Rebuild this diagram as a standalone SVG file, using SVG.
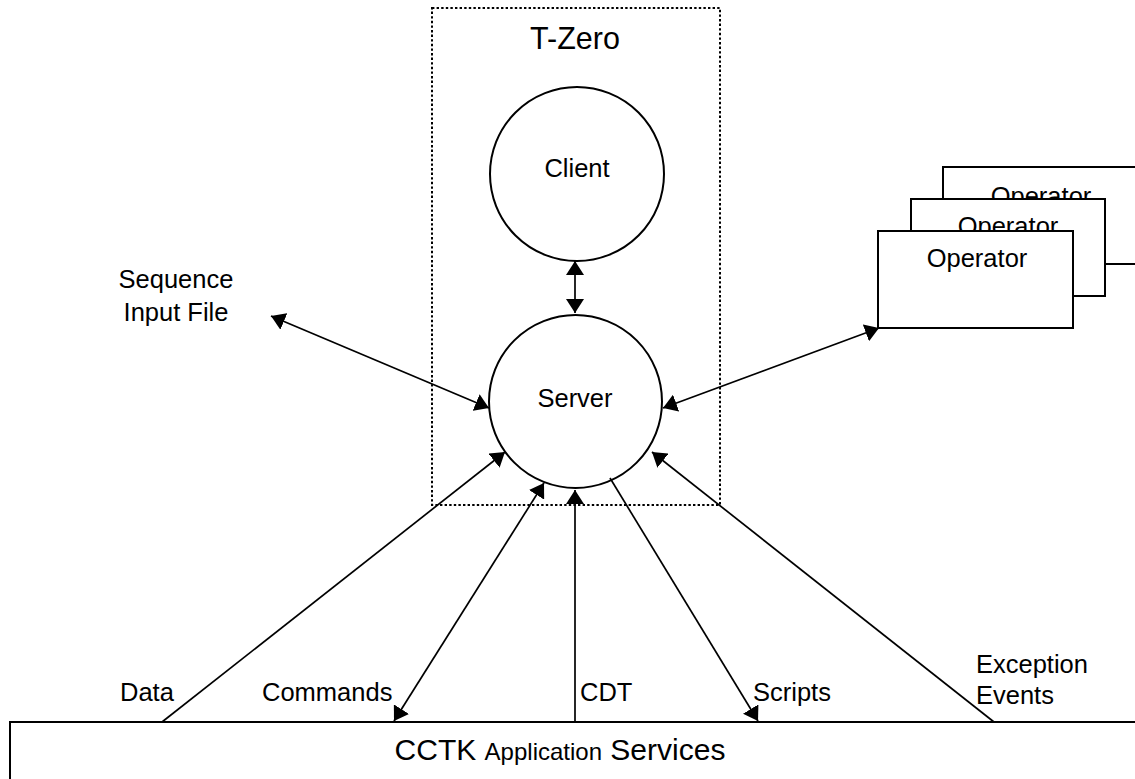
<svg xmlns="http://www.w3.org/2000/svg" width="1135" height="779" viewBox="0 0 1135 779">
<style>
text{font-family:"Liberation Sans",Arial,sans-serif;fill:#000;font-size:25.5px}
.c{text-anchor:middle}
.shape{fill:#fff;stroke:#000;stroke-width:2}
.conn{stroke:#000;stroke-width:1.7;fill:none}
</style>
<defs>
<marker id="ah" viewBox="0 0 14 18" refX="14" refY="9" markerUnits="userSpaceOnUse" markerWidth="14" markerHeight="18" orient="auto-start-reverse">
<path d="M0,0 L14,9 L0,18 z" fill="#000"/>
</marker>
</defs>
<rect width="1135" height="779" fill="#fff"/>
<g id="tzero">
<rect x="432" y="8" width="288" height="497" fill="none" stroke="#000" stroke-width="2" stroke-dasharray="2.4 2.2"/>
<text class="c" x="575" y="49" style="font-size:30.5px">T-Zero</text>
</g>
<g id="client">
<circle class="shape" cx="577" cy="174" r="87"/>
<text class="c" x="577" y="177">Client</text>
</g>
<g id="server">
<circle class="shape" cx="575.5" cy="401.5" r="86.5"/>
<text class="c" x="575" y="407">Server</text>
</g>
<g id="sequence">
<text class="c" x="176" y="288">Sequence</text>
<text class="c" x="176" y="321">Input File</text>
</g>
<g id="operators">
<rect class="shape" x="943" y="167" width="196" height="97"/>
<text class="c" x="1041" y="205">Operator</text>
<rect class="shape" x="911" y="199" width="194" height="97"/>
<text class="c" x="1008" y="235">Operator</text>
<rect class="shape" x="878" y="231" width="195" height="97"/>
<text class="c" x="977" y="267">Operator</text>
</g>
<g id="cctk">
<rect class="shape" x="10" y="722" width="1135" height="70"/>
<text class="c" x="560" y="760" style="font-size:30px">CCTK <tspan style="font-size:24px">Application</tspan> Services</text>
</g>
<g id="connectors">
<line class="conn" x1="575" y1="261" x2="575" y2="313" marker-start="url(#ah)" marker-end="url(#ah)"/>
<line class="conn" x1="271" y1="316" x2="489" y2="408" marker-start="url(#ah)" marker-end="url(#ah)"/>
<line class="conn" x1="879" y1="328" x2="663" y2="408" marker-start="url(#ah)" marker-end="url(#ah)"/>
<line class="conn" x1="162" y1="722" x2="505" y2="452" marker-end="url(#ah)"/>
<line class="conn" x1="394" y1="721" x2="544" y2="483" marker-start="url(#ah)" marker-end="url(#ah)"/>
<line class="conn" x1="575" y1="722" x2="575" y2="490" marker-end="url(#ah)"/>
<line class="conn" x1="610" y1="478" x2="758" y2="721" marker-end="url(#ah)"/>
<line class="conn" x1="994" y1="722" x2="652" y2="452" marker-end="url(#ah)"/>
</g>
<g id="labels">
<text x="120" y="701">Data</text>
<text x="262" y="701">Commands</text>
<text x="580" y="701">CDT</text>
<text x="753" y="701">Scripts</text>
<text x="976" y="673">Exception</text>
<text x="976" y="704">Events</text>
</g>
</svg>
